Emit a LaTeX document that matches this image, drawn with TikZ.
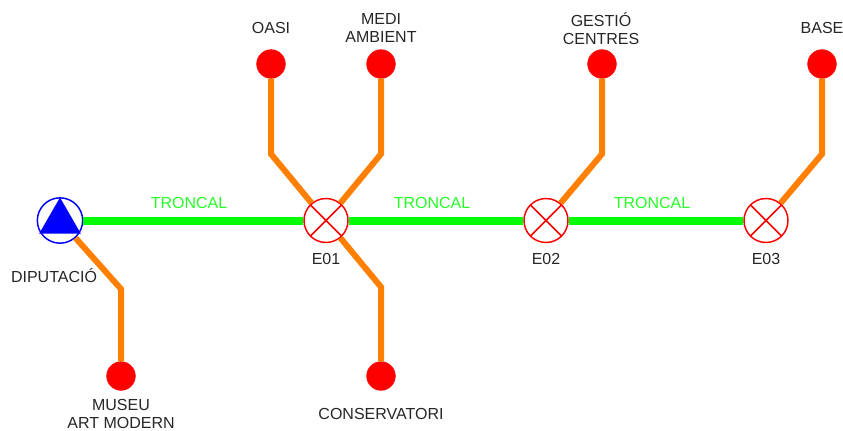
\documentclass[tikz,border=0pt]{standalone}
\usepackage{fontspec}
\setmainfont{Liberation Sans}
\usetikzlibrary{shapes.geometric}
\definecolor{trunkGreen}{RGB}{0,255,0}
\definecolor{branchOrange}{RGB}{255,128,0}
\tikzset{
  trunk/.style={draw=trunkGreen,line width=6pt},
  branch/.style={draw=branchOrange,line width=4.5pt,line join=miter},
  sink/.style={circle,fill=red,draw=red,inner sep=0pt,minimum size=21.5pt},
  station/.style={circle,draw=red,line width=1.1pt,fill=white,inner sep=0pt,minimum size=33pt,
    path picture={\draw[red,line width=1.1pt] (path picture bounding box.north west) -- (path picture bounding box.south east)
      (path picture bounding box.north east) -- (path picture bounding box.south west);}},
  pump/.style={circle,draw=blue,line width=1.1pt,fill=white,inner sep=0pt,minimum size=34pt},
  label/.style={text=black!85,font=\fontsize{12pt}{13.6pt}\selectfont,align=center,inner sep=0pt},
  tag/.style={text=trunkGreen!85!white,font=\fontsize{12pt}{13.6pt}\selectfont,inner sep=0pt}
}
\begin{document}
\begin{tikzpicture}[x=0.75pt,y=-0.75pt]
\useasboundingbox (0,0) rectangle (843,430);
% coordinates are the pixels of the plan
\coordinate (bendOasi) at (271,154);
\coordinate (bendMedi) at (381,154);
\coordinate (bendGestio) at (602,154);
\coordinate (bendBase) at (822,154);
\coordinate (bendMuseu) at (121,289);
\coordinate (bendConserv) at (381,287);
\node[pump] (dip) at (60,220.5) {};
\node[station] (e01) at (326,220.5) {};
\node[station] (e02) at (546,220.5) {};
\node[station] (e03) at (766,220.5) {};
\node[sink] (oasi) at (271,64) {};
\node[sink] (medi) at (381,64) {};
\node[sink] (gestio) at (602,64) {};
\node[sink] (base) at (822,64) {};
\node[sink] (museu) at (121,376) {};
\node[sink] (conserv) at (381,376) {};
\node[regular polygon,regular polygon sides=3,fill=blue,inner sep=0pt,minimum size=36pt] (tri) at (60,221.5) {};
\draw[trunk] (dip) -- (e01);
\draw[trunk] (e01) -- (e02);
\draw[trunk] (e02) -- (e03);
\draw[branch] (oasi) -- (bendOasi) -- (e01);
\draw[branch] (medi) -- (bendMedi) -- (e01);
\draw[branch] (conserv) -- (bendConserv) -- (e01);
\draw[branch] (gestio) -- (bendGestio) -- (e02);
\draw[branch] (base) -- (bendBase) -- (e03);
\draw[branch] (museu) -- (bendMuseu) -- (dip);
\node[tag] (t1) at (189,203) {TRONCAL};
\node[tag] (t2) at (432,203) {TRONCAL};
\node[tag] (t3) at (652,203) {TRONCAL};
\node[label] (l0) at (54,276) {DIPUTACIÓ};
\node[label] (l1) at (326,259) {E01};
\node[label] (l2) at (546,259) {E02};
\node[label] (l3) at (766,259) {E03};
\node[label] (l4) at (271,28) {OASI};
\node[label] (l5) at (381,28) {MEDI\\AMBIENT};
\node[label] (l6) at (601,29) {GESTIÓ\\CENTRES};
\node[label] (l7) at (822,28) {BASE};
\node[label] (l8) at (121,414) {MUSEU\\ART MODERN};
\node[label] (l9) at (381,414) {CONSERVATORI};
\end{tikzpicture}
\end{document}
